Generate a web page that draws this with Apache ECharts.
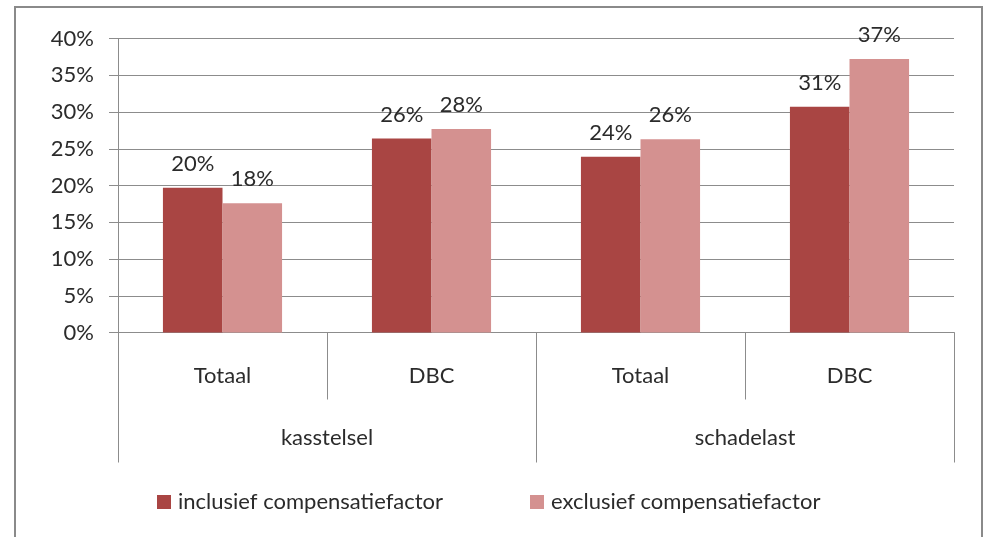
<!DOCTYPE html>
<html>
<head>
<meta charset="utf-8">
<script src="https://cdn.jsdelivr.net/npm/echarts@6/dist/echarts.min.js"></script>
<style>
  html, body { margin: 0; padding: 0; background: #fff; }
  #chart { width: 984px; height: 537px; }
</style>
</head>
<body>
<div id="chart"></div>
<script>
// categorieën (twee niveaus)
const subCategories = ["Totaal", "DBC", "Totaal", "DBC"];
const groupCategories = ["kasstelsel", "schadelast"];

// waarden in procenten
const inclusief = [19.7, 26.4, 23.9, 30.7];
const exclusief = [17.6, 27.7, 26.3, 37.2];

const seriesNames = ["inclusief compensatiefactor", "exclusief compensatiefactor"];

const FONT = "Lato";
const FONT_SIZE = 22;
const TEXT = "#2b2b2b";
const GRID_COLOR = "#8c8c8c";

const chart = echarts.init(document.getElementById("chart"), null, { renderer: "canvas" });

const barLabel = {
  show: true,
  position: "top",
  distance: 13,
  fontFamily: FONT,
  fontSize: FONT_SIZE,
  color: TEXT,
  formatter: (p) => Math.round(p.value) + "%",
};

// één legenda per reeks, zodat de posities vast liggen
const legendItem = (name, left) => ({
  left: left,
  top: 486,
  itemWidth: 14,
  itemHeight: 14,
  icon: "rect",
  textStyle: { fontFamily: FONT, fontSize: FONT_SIZE, color: TEXT, padding: [0, 0, 0, 2] },
  data: [name],
});

chart.setOption({
  animation: false,
  textStyle: { fontFamily: FONT },
  graphic: [
    {
      type: "rect",
      shape: { x: 15, y: 7, width: 967, height: 540 },
      style: { fill: "none", stroke: "#8a8a8a", lineWidth: 2 },
      silent: true,
    },
  ],
  grid: { left: 118, right: 30, top: 38.5, bottom: 204.5, containLabel: false },
  legend: [legendItem(seriesNames[0], 152), legendItem(seriesNames[1], 525)],
  xAxis: [
    {
      type: "category",
      data: subCategories,
      position: "bottom",
      axisLine: { show: true, lineStyle: { color: GRID_COLOR, width: 1 } },
      axisTick: { show: true, interval: 0, length: 67, lineStyle: { color: GRID_COLOR } },
      axisLabel: { interval: 0, margin: 32, fontFamily: FONT, fontSize: FONT_SIZE, color: TEXT },
    },
    {
      type: "category",
      data: groupCategories,
      position: "bottom",
      axisLine: { show: false },
      axisTick: { show: true, interval: 0, length: 130, lineStyle: { color: GRID_COLOR } },
      axisLabel: { interval: 0, margin: 94, fontFamily: FONT, fontSize: FONT_SIZE, color: TEXT },
    },
  ],
  yAxis: {
    type: "value",
    min: 0,
    max: 40,
    interval: 5,
    axisLine: { show: true, lineStyle: { color: GRID_COLOR } },
    axisTick: { show: true, length: 9, lineStyle: { color: GRID_COLOR } },
    axisLabel: { formatter: "{value}%", margin: 24, fontFamily: FONT, fontSize: FONT_SIZE, color: TEXT },
    splitLine: { show: true, lineStyle: { color: GRID_COLOR, width: 1 } },
  },
  series: [
    {
      name: seriesNames[0],
      type: "bar",
      xAxisIndex: 0,
      data: inclusief,
      barGap: "0%",
      barCategoryGap: "43%",
      itemStyle: { color: "#a94543" },
      label: barLabel,
    },
    {
      name: seriesNames[1],
      type: "bar",
      xAxisIndex: 0,
      data: exclusief,
      itemStyle: { color: "#d49190" },
      label: barLabel,
    },
  ],
});
</script>
</body>
</html>
